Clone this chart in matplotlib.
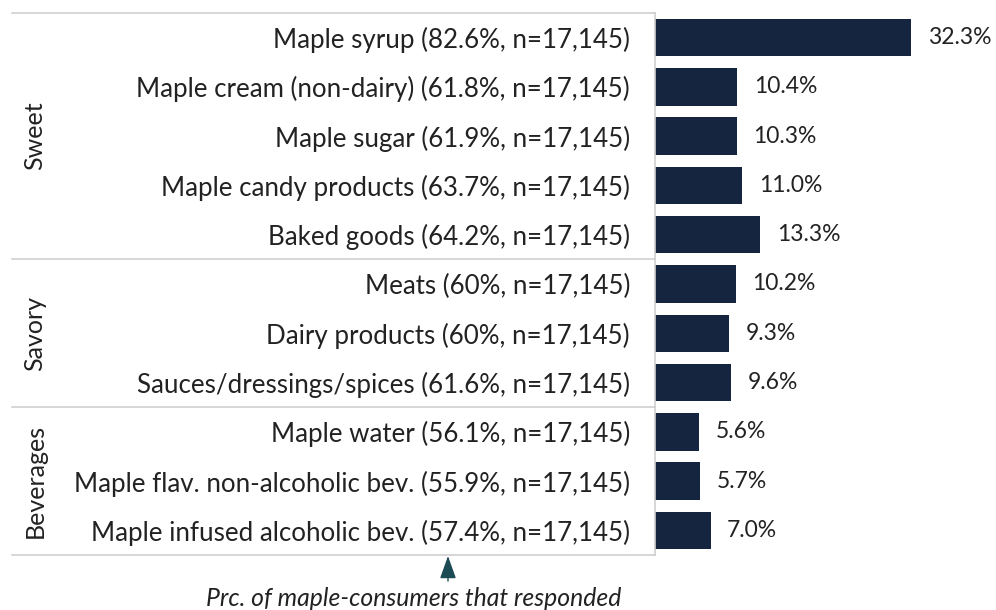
import matplotlib.pyplot as plt
from matplotlib.lines import Line2D
from matplotlib.transforms import blended_transform_factory

# ---------- Data ----------
items = [
    "Maple syrup (82.6%, n=17,145)",
    "Maple cream (non-dairy) (61.8%, n=17,145)",
    "Maple sugar (61.9%, n=17,145)",
    "Maple candy products (63.7%, n=17,145)",
    "Baked goods (64.2%, n=17,145)",
    "Meats (60%, n=17,145)",
    "Dairy products (60%, n=17,145)",
    "Sauces/dressings/spices (61.6%, n=17,145)",
    "Maple water (56.1%, n=17,145)",
    "Maple flav. non-alcoholic bev. (55.9%, n=17,145)",
    "Maple infused alcoholic bev. (57.4%, n=17,145)",
]
shares = [32.3, 10.4, 10.3, 11.0, 13.3, 10.2, 9.3, 9.6, 5.6, 5.7, 7.0]
groups = ["Sweet", "Savory", "Beverages"]
group_sizes = [5, 3, 3]

BAR = "#15253f"
GRID = "#cfcfcf"
TEXT = "#222222"

plt.rcParams["font.family"] = ["Lato", "DejaVu Sans"]

W, H = 996, 610
fig = plt.figure(figsize=(W / 100, H / 100), dpi=100)
x0, y_top, y_bot = 655, 13, 555
ax = fig.add_axes([x0 / W, 1 - y_bot / H, 1 - x0 / W, (y_bot - y_top) / H])

y = list(range(len(items)))
ax.barh(y, shares, height=0.76, color=BAR)
for yi, v in zip(y, shares):
    ax.annotate(f"{v:.1f}%", (v, yi), xytext=(12, 0), textcoords="offset points",
                va="center", ha="left", fontsize=16.5, color=TEXT)

ax.set_xlim(0, (W - x0) / 7.93)
ax.set_ylim(len(items) - 0.5, -0.5)
ax.set_yticks(y, items)
ax.tick_params(axis="y", length=0, pad=18, labelsize=18.6, labelcolor=TEXT)
ax.set_xticks([])
for s in ("top", "right", "bottom"):
    ax.spines[s].set_visible(False)
ax.spines["left"].set_color(GRID)
ax.spines["left"].set_linewidth(1.2)

# group separators and rotated group names
tr = blended_transform_factory(fig.transFigure, ax.transData)
bounds = [-0.5]
for n in group_sizes:
    bounds.append(bounds[-1] + n)
for b in bounds:
    ax.add_line(Line2D([12 / W, x0 / W], [b, b], transform=tr, color=GRID,
                       lw=1.2, clip_on=False))
for name, lo, hi in zip(groups, bounds[:-1], bounds[1:]):
    ax.text(35 / W, (lo + hi) / 2, name, transform=tr, rotation=90,
            ha="center", va="center", fontsize=18, color=TEXT)

# note under the labels
ax.annotate("", xy=(448 / W, 1 - 556 / H), xytext=(448 / W, 1 - 581 / H),
            xycoords="figure fraction", textcoords="figure fraction",
            arrowprops=dict(arrowstyle="-|>,head_length=1.4,head_width=0.5",
                            color="#1d4b55", lw=1.0, mutation_scale=10,
                            shrinkA=0, shrinkB=0))
fig.text(414 / W, 1 - 598 / H, "Prc. of maple-consumers that responded",
         ha="center", va="center", fontsize=17.8, style="italic", color=TEXT)

fig.savefig("out.png", dpi=100)
